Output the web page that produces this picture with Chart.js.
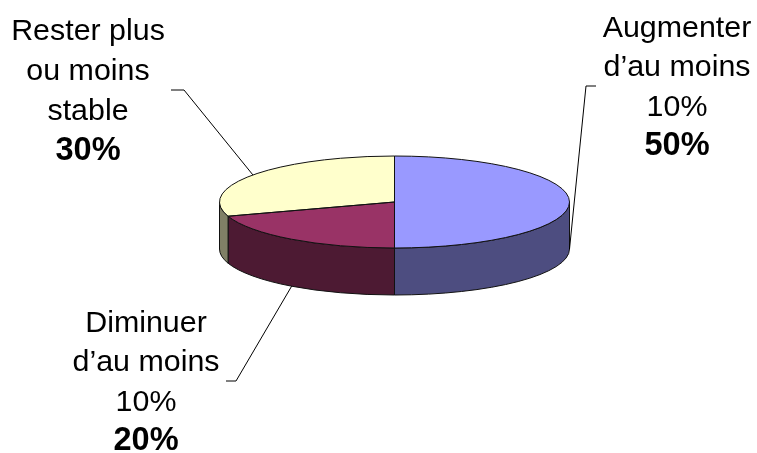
<!DOCTYPE html>
<html>
<head>
<meta charset="utf-8">
<script src="https://cdn.jsdelivr.net/npm/chart.js@4/dist/chart.umd.min.js"></script>
<style>
  html, body { margin: 0; padding: 0; background: #fff; }
  canvas { display: block; }
</style>
</head>
<body>
<canvas id="chart" width="757" height="453"></canvas>
<script>
const categories = [
  ["Augmenter", "d\u2019au moins", "10%"],
  ["Diminuer", "d\u2019au moins", "10%"],
  ["Rester plus", "ou moins", "stable"],
];
const values = [50, 20, 30];
const topColors = ["#9999ff", "#993366", "#ffffcc"];
const sideColors = ["#4d4d80", "#4d1a33", "#808066"];

// label blocks: centre x, baseline of first line, and where the leader elbow sits
const labelX = [677, 146, 88];
const labelY = [37, 331.5, 40];
const lineStep = [39.3, 39.5, 40];
const elbowFrom = [596, 226, 171];
const elbowTo = [586, 236, 184];
const elbowY = [86, 381, 90];

const fontSize = 30.4;
const boldSize = 32.5;
const flatten = 46 / 175;
const depth = 47;
const fontName = '"Liberation Sans", Arial, sans-serif';

const pie3d = {
  id: "pie3d",
  beforeDatasetsDraw(chart) {
    const ctx = chart.ctx;
    const arcs = chart.getDatasetMeta(0).data;
    // only the front half of the disc shows a side wall
    arcs.forEach((arc, i) => {
      const ry = arc.outerRadius * flatten;
      let from = arc.startAngle;
      let to = Math.min(arc.endAngle, Math.PI);
      from = Math.max(from, 0);
      if (to <= from) return;
      ctx.beginPath();
      ctx.ellipse(arc.x, arc.y, arc.outerRadius, ry, 0, from, to);
      ctx.ellipse(arc.x, arc.y + depth, arc.outerRadius, ry, 0, to, from, true);
      ctx.closePath();
      ctx.fillStyle = sideColors[i];
      ctx.fill();
      ctx.strokeStyle = "#111";
      ctx.lineWidth = 1;
      ctx.stroke();
    });
    const first = arcs[0];
    ctx.save();
    ctx.translate(first.x, first.y);
    ctx.scale(1, flatten);
    ctx.translate(-first.x, -first.y);
  },
  afterDatasetsDraw(chart) {
    const ctx = chart.ctx;
    ctx.restore();
    const arcs = chart.getDatasetMeta(0).data;

    // outlines are stroked unscaled so they stay 1px all round
    arcs.forEach((arc) => {
      ctx.beginPath();
      ctx.moveTo(arc.x, arc.y);
      ctx.ellipse(arc.x, arc.y, arc.outerRadius, arc.outerRadius * flatten, 0, arc.startAngle, arc.endAngle);
      ctx.closePath();
      ctx.strokeStyle = "#111";
      ctx.lineWidth = 1;
      ctx.stroke();
    });

    // leader lines
    arcs.forEach((arc, i) => {
      const mid = (arc.startAngle + arc.endAngle) / 2;
      let ay = arc.y + arc.outerRadius * flatten * Math.sin(mid);
      if (Math.sin(mid) > -0.001) ay += depth;
      const ax = arc.x + arc.outerRadius * Math.cos(mid);
      ctx.beginPath();
      ctx.moveTo(elbowFrom[i], elbowY[i]);
      ctx.lineTo(elbowTo[i], elbowY[i]);
      ctx.lineTo(ax, ay);
      ctx.strokeStyle = "#000";
      ctx.lineWidth = 1;
      ctx.stroke();
    });

    // labels
    ctx.fillStyle = "#000";
    ctx.textAlign = "center";
    ctx.textBaseline = "alphabetic";
    categories.forEach((lines, i) => {
      ctx.font = fontSize + "px " + fontName;
      lines.forEach((line, n) => {
        ctx.fillText(line, labelX[i], labelY[i] + n * lineStep[i]);
      });
      ctx.font = "bold " + boldSize + "px " + fontName;
      ctx.fillText(values[i] + "%", labelX[i], labelY[i] + lines.length * lineStep[i]);
    });
  },
};

new Chart(document.getElementById("chart"), {
  type: "pie",
  data: {
    labels: categories.map((lines) => lines.join(" ")),
    datasets: [
      {
        data: values,
        backgroundColor: topColors,
        borderWidth: 0,
      },
    ],
  },
  options: {
    responsive: false,
    animation: false,
    radius: 175,
    layout: { padding: { left: 32, right: 0, top: 0, bottom: 49 } },
    plugins: {
      legend: { display: false },
      tooltip: { enabled: false },
    },
  },
  plugins: [pie3d],
});
</script>
</body>
</html>
